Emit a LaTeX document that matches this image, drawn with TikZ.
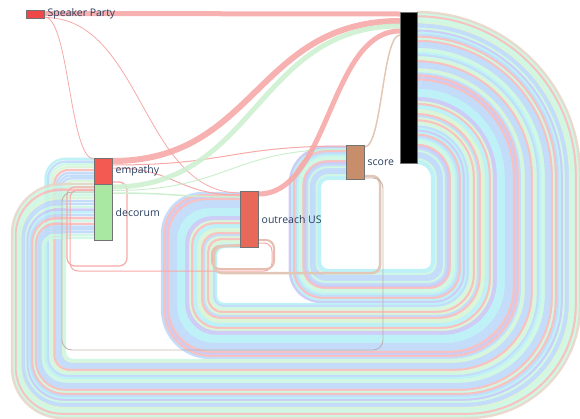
\documentclass[tikz,border=0pt]{standalone}
\usepackage{fontspec}
\setmainfont{Open Sans}
\usetikzlibrary{calc}
\definecolor{txt}{HTML}{2A3F5F}
\definecolor{pk}{HTML}{F8BAB8}
\definecolor{mn}{HTML}{CCF7E2}
\definecolor{lb}{HTML}{BED9F9}
\definecolor{cy}{HTML}{B8F0F6}
\definecolor{lg}{HTML}{D8F4D4}
\definecolor{lv}{HTML}{C8C8F6}
\definecolor{tn}{HTML}{E6D6C8}
\colorlet{s0}{pk}\colorlet{s1}{mn}\colorlet{s2}{lb}\colorlet{s3}{cy}
\colorlet{s4}{lg}\colorlet{s5}{mn}\colorlet{s6}{lb}\colorlet{s7}{lv}
\definecolor{cSP}{HTML}{F04848}
\definecolor{cEmp}{HTML}{F25A52}
\definecolor{cDec}{HTML}{A8E8A2}
\definecolor{cOut}{HTML}{E8685A}
\definecolor{cSc}{HTML}{C88E6C}
\definecolor{lkpink}{HTML}{F6A9A7}
\definecolor{lkgreen}{HTML}{CDEFD0}
\definecolor{lktan}{HTML}{E2C6B6}
\definecolor{lkgrey}{HTML}{B8A8A0}
\newcommand\drawstripe[1]{%
 \draw[line width=2.4pt, color=#1, opacity=0.9]
  (417,\yb) .. controls ({\xr-0.448*\ra},\yb) and (\xr,{\yb+0.448*\ra}) .. (\xr,{\yb+\ra})
  -- (\xr,{\ybt-\rb}) .. controls (\xr,{\ybt-0.448*\rb}) and ({\xr-0.448*\rb},\ybt) .. ({\xr-\rb},\ybt)
  -- ({\xl+\rc},\ybt) .. controls ({\xl+0.448*\rc},\ybt) and (\xl,{\ybt-0.448*\rc}) .. (\xl,{\ybt-\rc})
  -- (\xl,{\yt+\rd}) .. controls (\xl,{\yt+0.448*\rd}) and ({\xl+0.448*\rd},\yt) .. ({\xl+\rd},\yt)
  -- (\xt,\yt);}
\newcommand\slink[3][]{\draw[#1] let \p1=(#2),\p2=(#3) in (\p1) .. controls ({0.5*\x1+0.5*\x2},\y1) and ({0.5*\x1+0.5*\x2},\y2) .. (\p2);}
\tikzset{
  nodebox/.style={draw=black!55, line width=0.5pt, inner sep=0pt, anchor=north west},
  lbl/.style={text=txt, font=\fontsize{10.5}{12}\selectfont, anchor=west, inner sep=0pt, xshift=3pt},
  pinkl/.style={draw=lkpink, line width=1.2pt, rounded corners=8pt},
}
\begin{document}
\begin{tikzpicture}[x=1pt,y=-1pt]
\useasboundingbox (0,0) rectangle (580,418);
\clip (0,0) rectangle (580,418);
% ---- big circular band from the black node ----
\foreach \o in {0,2,...,148} {
  \pgfmathsetmacro\xr{432+\o}
  \pgfmathsetmacro\ybt{270+\o}
  \pgfmathsetmacro\yb{163-\o*1.0203}
  \pgfmathsetmacro\ra{\xr-417}
  \pgfmathsetmacro\rb{8+0.7*\o}
  \pgfmathtruncatemacro\k{mod(int(abs(sin(\o*67.3+11))*997),8)}
  \ifnum\o<34
    \pgfmathsetmacro\f{\o/34}
    \pgfmathsetmacro\xl{320-32*\f}
    \pgfmathsetmacro\yt{179-34*\f}
    \def\xt{346}
    \pgfmathsetmacro\rc{8+25*\f}
    \pgfmathsetmacro\rd{8+30*\f}
  \else\ifnum\o<90
    \pgfmathsetmacro\f{(\o-34)/56}
    \pgfmathsetmacro\xl{216-56*\f}
    \pgfmathsetmacro\yt{247-56*\f}
    \def\xt{240}
    \pgfmathsetmacro\rc{8+42*\f}
    \pgfmathsetmacro\rd{8+34*\f}
  \else
    \pgfmathsetmacro\f{(\o-90)/58}
    \def\xt{94}
    \pgfmathsetmacro\rc{8+42*\f}
    \ifdim\f pt<0.32pt
      \pgfmathsetmacro\g{\f/0.32}
      \pgfmathsetmacro\xl{65-20*\g}
      \pgfmathsetmacro\yt{184-26*\g}
      \pgfmathsetmacro\rd{8+12*\g}
    \else
      \pgfmathsetmacro\g{(\f-0.32)/0.68}
      \pgfmathsetmacro\xl{45-33*\g}
      \pgfmathsetmacro\yt{240-56*\g}
      \pgfmathsetmacro\rd{8+42*\g}
    \fi
  \fi\fi
  \ifnum\o=148 \drawstripe{tn}\else\ifnum\o=0 \drawstripe{cy}\else\drawstripe{s\k}\fi\fi
}
% ---- nodes ----
\node[nodebox, fill=cSP, minimum width=18pt, minimum height=8pt] (sp) at (26,10) {};
\node[nodebox, fill=cEmp, minimum width=18pt, minimum height=26pt] (emp) at (94,158) {};
\node[nodebox, fill=cDec, minimum width=18pt, minimum height=56pt] (dec) at (94,184) {};
\node[nodebox, fill=cOut, minimum width=18pt, minimum height=56pt] (out) at (240,191) {};
\node[nodebox, fill=cSc, minimum width=18pt, minimum height=34pt] (sc) at (346,145) {};
\node[nodebox, fill=black, minimum width=17pt, minimum height=151pt] (blk) at (400,12) {};
% ---- anchor coordinates ----
\coordinate (ed1) at ([yshift=-24pt]emp.north east);
\coordinate (ed2) at ([yshift=-3pt]dec.north west);
\coordinate (od1) at ([yshift=-52pt]out.north east);
\coordinate (od2) at ([yshift=-6pt]dec.north west);
\coordinate (oo1) at ([yshift=-49pt]out.north east);
\coordinate (oo2) at ([yshift=-55pt]out.north west);
\coordinate (so1) at ([yshift=-31pt]sc.north east);
\coordinate (so2) at ([yshift=-54pt]out.north west);
\coordinate (sd1) at ([yshift=-33pt]sc.north east);
\coordinate (sd2) at ([yshift=-8pt]dec.north west);
% ---- circular small links ----
\draw[pinkl] (ed1) -- (127,182) -- (127,266) -- (67,266) -- (67,187) -- (ed2);
\draw[pinkl, line width=1pt] (od1) -- (272,243) -- (272,271) -- (70,271) -- (70,190) -- (od2);
\draw[draw=lktan!70!lkpink, line width=2pt, rounded corners=8pt] (oo1) -- (274,240) -- (274,269) -- (212,269) -- (212,246) -- (oo2);
\draw[draw=lktan, line width=2.5pt, rounded corners=8pt] (so1) -- (380,176) -- (380,273) -- (214,273) -- (214,247) -- (so2);
\draw[draw=lkgrey, line width=0.9pt, opacity=0.8, rounded corners=10pt] (sd1) -- (383,178) -- (383,350) -- (62,350) -- (62,192) -- (sd2);
% ---- regular links ----
\slink[draw=lkpink, line width=5pt, opacity=0.9]{[yshift=-3.5pt]sp.north east}{[yshift=-2pt]blk.north west}
\slink[draw=lkpink, line width=0.8pt]{[yshift=-7pt]sp.north east}{[yshift=-1pt]emp.north west}
\slink[draw=lkpink, line width=0.8pt]{[yshift=-7.5pt]sp.north east}{[yshift=-2pt]out.north west}
\slink[draw=lkpink, line width=6pt, opacity=0.9]{[yshift=-3pt]emp.north east}{[yshift=-9pt]blk.north west}
\slink[draw=lkpink, line width=1pt]{[yshift=-7pt]emp.north east}{[yshift=-1pt]sc.north west}
\slink[draw=lkpink, line width=1pt]{[yshift=-10pt]emp.north east}{[yshift=-4pt]out.north west}
\slink[draw=lkgreen, line width=5pt, opacity=0.9]{[yshift=-3pt]dec.north east}{[yshift=-14pt]blk.north west}
\slink[draw=lkgreen, line width=1pt]{[yshift=-6.5pt]dec.north east}{[yshift=-4pt]sc.north west}
\slink[draw=lkgreen, line width=1.5pt]{[yshift=-9pt]dec.north east}{[yshift=-6pt]out.north west}
\slink[draw=lkpink, line width=5pt, opacity=0.9]{[yshift=-3pt]out.north east}{[yshift=-19pt]blk.north west}
\slink[draw=lktan, line width=1.5pt]{[yshift=-2pt]sc.north east}{[yshift=-23pt]blk.north west}
% ---- redraw nodes on top ----
\node[nodebox, fill=cSP, minimum width=18pt, minimum height=8pt] at (26,10) {};
\node[nodebox, fill=cEmp, minimum width=18pt, minimum height=26pt] at (94,158) {};
\node[nodebox, fill=cDec, minimum width=18pt, minimum height=56pt] at (94,184) {};
\node[nodebox, fill=cOut, minimum width=18pt, minimum height=56pt] at (240,191) {};
\node[nodebox, fill=cSc, minimum width=18pt, minimum height=34pt] at (346,145) {};
\node[nodebox, fill=black, minimum width=17pt, minimum height=151pt] at (400,12) {};
% ---- labels ----
\node[lbl] (splbl) at (sp.east) {Speaker Party};
\node[lbl] (emplbl) at (emp.east) {empathy};
\node[lbl] (declbl) at (dec.east) {decorum};
\node[lbl] (outlbl) at (out.east) {outreach US};
\node[lbl] (sclbl) at (sc.east) {score};
\end{tikzpicture}
\end{document}
